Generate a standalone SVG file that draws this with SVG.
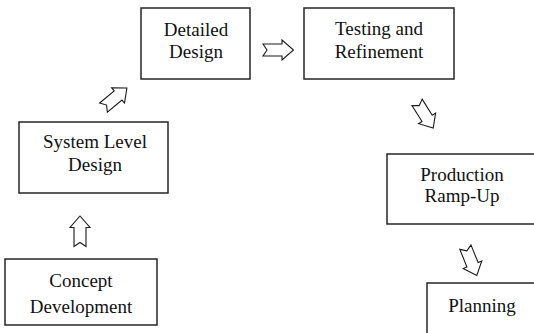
<svg xmlns="http://www.w3.org/2000/svg" xmlns:xlink="http://www.w3.org/1999/xlink" width="534" height="333" viewBox="0 0 534 333">
  <style>
    .box { fill: #ffffff; stroke: #262626; stroke-width: 1.5; }
    .lbl { font-family: 'Liberation Serif', 'DejaVu Serif', 'Times New Roman', serif; font-size: 19px; fill: #111111; text-anchor: middle; }
    .blk { fill: #ffffff; stroke: #1a1a1a; stroke-width: 1.1; stroke-linejoin: miter; }
  </style>
  <defs>
    <!-- hollow block arrow, centred on the origin, pointing along +x -->
    <path id="blockArrow" class="blk" d="M -15,-6 L 4,-6 L 4,-10 L 15.5,0 L 4,10 L 4,6 L -15,6 L -11,0 Z"/>
  </defs>
  <rect width="534" height="333" fill="#ffffff"/>

  <g id="concept-development">
    <rect class="box" x="5" y="259" width="152" height="66"/>
    <text class="lbl" font-family="Liberation Serif, serif" x="81" y="287">Concept</text>
    <text class="lbl" font-family="Liberation Serif, serif" x="81" y="313">Development</text>
  </g>

  <g id="system-level-design">
    <rect class="box" x="19" y="122" width="149" height="71"/>
    <text class="lbl" font-family="Liberation Serif, serif" x="95" y="148">System Level</text>
    <text class="lbl" font-family="Liberation Serif, serif" x="95" y="171">Design</text>
  </g>

  <g id="detailed-design">
    <rect class="box" x="141" y="8" width="109" height="71"/>
    <text class="lbl" font-family="Liberation Serif, serif" x="196" y="36">Detailed</text>
    <text class="lbl" font-family="Liberation Serif, serif" x="196" y="58">Design</text>
  </g>

  <g id="testing-refinement">
    <rect class="box" x="304" y="8" width="150" height="71"/>
    <text class="lbl" font-family="Liberation Serif, serif" x="379" y="35">Testing and</text>
    <text class="lbl" font-family="Liberation Serif, serif" x="379" y="58">Refinement</text>
  </g>

  <g id="production-ramp-up">
    <rect class="box" x="387" y="154" width="150" height="70"/>
    <text class="lbl" font-family="Liberation Serif, serif" x="462" y="181">Production</text>
    <text class="lbl" font-family="Liberation Serif, serif" x="462" y="202">Ramp-Up</text>
  </g>

  <g id="planning">
    <rect class="box" x="427" y="283" width="110" height="60"/>
    <text class="lbl" font-family="Liberation Serif, serif" x="482" y="312">Planning</text>
  </g>

  <g id="connectors">
    <use xlink:href="#blockArrow" transform="translate(80 231.5) rotate(-90)"/>
    <use xlink:href="#blockArrow" transform="translate(115 98) rotate(-40)"/>
    <use xlink:href="#blockArrow" transform="translate(278 50)"/>
    <use xlink:href="#blockArrow" transform="translate(425 115) rotate(58)"/>
    <use xlink:href="#blockArrow" transform="translate(471 261) rotate(68)"/>
  </g>
</svg>
